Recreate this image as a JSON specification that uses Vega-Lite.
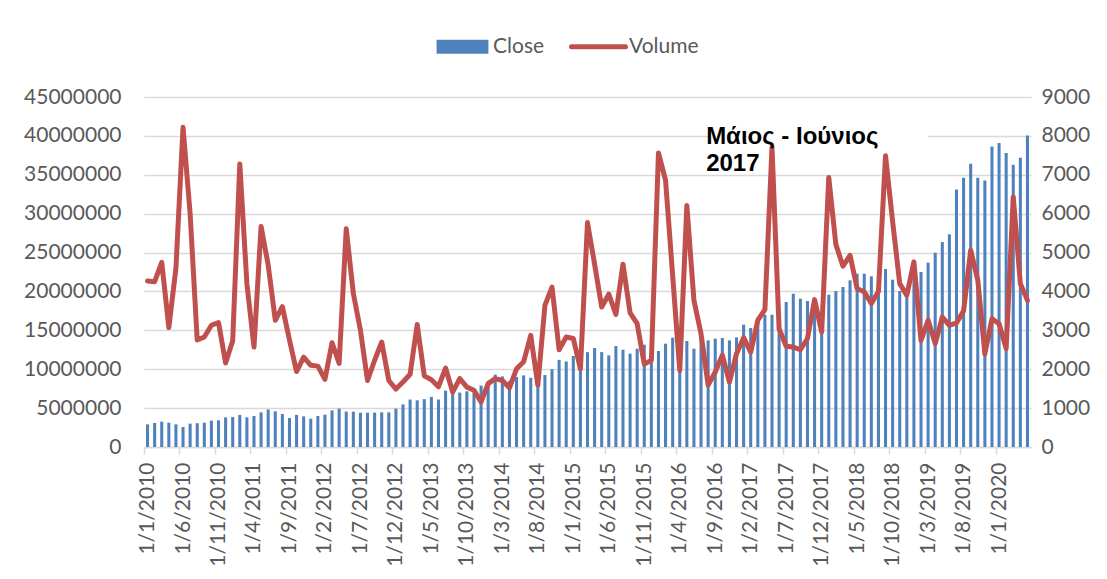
{
  "$schema": "https://vega.github.io/schema/vega-lite/v6.json",
  "width": 887,
  "height": 350,
  "autosize": {"type": "none"},
  "padding": {"left": 144, "top": 97, "right": 76, "bottom": 132},
  "background": "white",
  "config": {
    "view": {"stroke": null},
    "font": "Lato",
    "axis": {"labelFont": "Lato", "labelFontSize": 21, "labelColor": "#595959", "title": null}
  },
  "data": {
    "values": [
      {"month": "1/1/2010", "close": 2910000, "volume": 4270},
      {"month": "1/2/2010", "close": 3090000, "volume": 4250},
      {"month": "1/3/2010", "close": 3260000, "volume": 4750},
      {"month": "1/4/2010", "close": 3130000, "volume": 3070},
      {"month": "1/5/2010", "close": 2910000, "volume": 4600},
      {"month": "1/6/2010", "close": 2570000, "volume": 8220},
      {"month": "1/7/2010", "close": 3000000, "volume": 6000},
      {"month": "1/8/2010", "close": 3060000, "volume": 2750},
      {"month": "1/9/2010", "close": 3130000, "volume": 2830},
      {"month": "1/10/2010", "close": 3390000, "volume": 3130},
      {"month": "1/11/2010", "close": 3430000, "volume": 3200},
      {"month": "1/12/2010", "close": 3810000, "volume": 2160},
      {"month": "1/1/2011", "close": 3860000, "volume": 2730},
      {"month": "1/2/2011", "close": 4130000, "volume": 7280},
      {"month": "1/3/2011", "close": 3810000, "volume": 4200},
      {"month": "1/4/2011", "close": 3990000, "volume": 2570},
      {"month": "1/5/2011", "close": 4460000, "volume": 5670},
      {"month": "1/6/2011", "close": 4820000, "volume": 4680},
      {"month": "1/7/2011", "close": 4580000, "volume": 3260},
      {"month": "1/8/2011", "close": 4240000, "volume": 3610},
      {"month": "1/9/2011", "close": 3730000, "volume": 2750},
      {"month": "1/10/2011", "close": 4130000, "volume": 1940},
      {"month": "1/11/2011", "close": 3940000, "volume": 2310},
      {"month": "1/12/2011", "close": 3640000, "volume": 2100},
      {"month": "1/1/2012", "close": 3990000, "volume": 2080},
      {"month": "1/2/2012", "close": 4160000, "volume": 1740},
      {"month": "1/3/2012", "close": 4710000, "volume": 2680},
      {"month": "1/4/2012", "close": 4930000, "volume": 2150},
      {"month": "1/5/2012", "close": 4560000, "volume": 5610},
      {"month": "1/6/2012", "close": 4540000, "volume": 3950},
      {"month": "1/7/2012", "close": 4410000, "volume": 3000},
      {"month": "1/8/2012", "close": 4410000, "volume": 1710},
      {"month": "1/9/2012", "close": 4420000, "volume": 2230},
      {"month": "1/10/2012", "close": 4460000, "volume": 2700},
      {"month": "1/11/2012", "close": 4460000, "volume": 1710},
      {"month": "1/12/2012", "close": 4930000, "volume": 1490},
      {"month": "1/1/2013", "close": 5480000, "volume": 1670},
      {"month": "1/2/2013", "close": 6100000, "volume": 1870},
      {"month": "1/3/2013", "close": 6000000, "volume": 3150},
      {"month": "1/4/2013", "close": 6150000, "volume": 1830},
      {"month": "1/5/2013", "close": 6450000, "volume": 1730},
      {"month": "1/6/2013", "close": 6100000, "volume": 1550},
      {"month": "1/7/2013", "close": 7240000, "volume": 2030},
      {"month": "1/8/2013", "close": 6980000, "volume": 1410},
      {"month": "1/9/2013", "close": 7000000, "volume": 1760},
      {"month": "1/10/2013", "close": 7160000, "volume": 1540},
      {"month": "1/11/2013", "close": 6980000, "volume": 1460},
      {"month": "1/12/2013", "close": 7900000, "volume": 1160},
      {"month": "1/1/2014", "close": 8400000, "volume": 1630},
      {"month": "1/2/2014", "close": 9300000, "volume": 1760},
      {"month": "1/3/2014", "close": 9080000, "volume": 1710},
      {"month": "1/4/2014", "close": 8500000, "volume": 1520},
      {"month": "1/5/2014", "close": 9000000, "volume": 2010},
      {"month": "1/6/2014", "close": 9210000, "volume": 2190},
      {"month": "1/7/2014", "close": 8900000, "volume": 2870},
      {"month": "1/8/2014", "close": 8000000, "volume": 1590},
      {"month": "1/9/2014", "close": 9250000, "volume": 3640},
      {"month": "1/10/2014", "close": 10000000, "volume": 4110},
      {"month": "1/11/2014", "close": 11200000, "volume": 2500},
      {"month": "1/12/2014", "close": 11000000, "volume": 2830},
      {"month": "1/1/2015", "close": 11700000, "volume": 2790},
      {"month": "1/2/2015", "close": 10200000, "volume": 2010},
      {"month": "1/3/2015", "close": 12200000, "volume": 5770},
      {"month": "1/4/2015", "close": 12730000, "volume": 4700},
      {"month": "1/5/2015", "close": 12200000, "volume": 3600},
      {"month": "1/6/2015", "close": 11780000, "volume": 3930},
      {"month": "1/7/2015", "close": 12980000, "volume": 3410},
      {"month": "1/8/2015", "close": 12510000, "volume": 4700},
      {"month": "1/9/2015", "close": 12000000, "volume": 3450},
      {"month": "1/10/2015", "close": 12640000, "volume": 3170},
      {"month": "1/11/2015", "close": 13150000, "volume": 2130},
      {"month": "1/12/2015", "close": 11400000, "volume": 2230},
      {"month": "1/1/2016", "close": 12340000, "volume": 7560},
      {"month": "1/2/2016", "close": 13280000, "volume": 6860},
      {"month": "1/3/2016", "close": 14050000, "volume": 4410},
      {"month": "1/4/2016", "close": 10300000, "volume": 1970},
      {"month": "1/5/2016", "close": 13630000, "volume": 6210},
      {"month": "1/6/2016", "close": 12640000, "volume": 3770},
      {"month": "1/7/2016", "close": 14000000, "volume": 2910},
      {"month": "1/8/2016", "close": 13710000, "volume": 1590},
      {"month": "1/9/2016", "close": 13930000, "volume": 1930},
      {"month": "1/10/2016", "close": 14010000, "volume": 2360},
      {"month": "1/11/2016", "close": 13710000, "volume": 1670},
      {"month": "1/12/2016", "close": 14100000, "volume": 2400},
      {"month": "1/1/2017", "close": 15730000, "volume": 2810},
      {"month": "1/2/2017", "close": 15300000, "volume": 2440},
      {"month": "1/3/2017", "close": 16500000, "volume": 3260},
      {"month": "1/4/2017", "close": 17000000, "volume": 3530},
      {"month": "1/5/2017", "close": 17000000, "volume": 7710},
      {"month": "1/6/2017", "close": 17500000, "volume": 3040},
      {"month": "1/7/2017", "close": 18640000, "volume": 2590},
      {"month": "1/8/2017", "close": 19710000, "volume": 2570},
      {"month": "1/9/2017", "close": 19070000, "volume": 2500},
      {"month": "1/10/2017", "close": 18770000, "volume": 2790},
      {"month": "1/11/2017", "close": 18900000, "volume": 3790},
      {"month": "1/12/2017", "close": 15000000, "volume": 2960},
      {"month": "1/1/2018", "close": 19580000, "volume": 6930},
      {"month": "1/2/2018", "close": 20050000, "volume": 5210},
      {"month": "1/3/2018", "close": 20570000, "volume": 4650},
      {"month": "1/4/2018", "close": 21430000, "volume": 4930},
      {"month": "1/5/2018", "close": 22280000, "volume": 4070},
      {"month": "1/6/2018", "close": 22280000, "volume": 3990},
      {"month": "1/7/2018", "close": 21940000, "volume": 3690},
      {"month": "1/8/2018", "close": 21500000, "volume": 4000},
      {"month": "1/9/2018", "close": 22880000, "volume": 7490},
      {"month": "1/10/2018", "close": 21510000, "volume": 5800},
      {"month": "1/11/2018", "close": 20050000, "volume": 4200},
      {"month": "1/12/2018", "close": 19800000, "volume": 3900},
      {"month": "1/1/2019", "close": 23000000, "volume": 4760},
      {"month": "1/2/2019", "close": 22500000, "volume": 2740},
      {"month": "1/3/2019", "close": 23700000, "volume": 3260},
      {"month": "1/4/2019", "close": 24980000, "volume": 2660},
      {"month": "1/5/2019", "close": 26350000, "volume": 3340},
      {"month": "1/6/2019", "close": 27340000, "volume": 3130},
      {"month": "1/7/2019", "close": 33100000, "volume": 3190},
      {"month": "1/8/2019", "close": 34620000, "volume": 3500},
      {"month": "1/9/2019", "close": 36420000, "volume": 5060},
      {"month": "1/10/2019", "close": 34620000, "volume": 4290},
      {"month": "1/11/2019", "close": 34280000, "volume": 2390},
      {"month": "1/12/2019", "close": 38650000, "volume": 3300},
      {"month": "1/1/2020", "close": 39080000, "volume": 3170},
      {"month": "1/2/2020", "close": 37800000, "volume": 2530},
      {"month": "1/3/2020", "close": 36300000, "volume": 6430},
      {"month": "1/4/2020", "close": 37190000, "volume": 4200},
      {"month": "1/5/2020", "close": 40060000, "volume": 3770}
    ]
  },
  "encoding": {
    "x": {
      "field": "month",
      "type": "ordinal",
      "scale": {
        "paddingInner": 0.57,
        "paddingOuter": 0.285,
        "domain": [
          "1/1/2010", "1/2/2010", "1/3/2010", "1/4/2010", "1/5/2010", "1/6/2010", "1/7/2010", "1/8/2010", "1/9/2010", "1/10/2010", "1/11/2010", "1/12/2010",
          "1/1/2011", "1/2/2011", "1/3/2011", "1/4/2011", "1/5/2011", "1/6/2011", "1/7/2011", "1/8/2011", "1/9/2011", "1/10/2011", "1/11/2011", "1/12/2011",
          "1/1/2012", "1/2/2012", "1/3/2012", "1/4/2012", "1/5/2012", "1/6/2012", "1/7/2012", "1/8/2012", "1/9/2012", "1/10/2012", "1/11/2012", "1/12/2012",
          "1/1/2013", "1/2/2013", "1/3/2013", "1/4/2013", "1/5/2013", "1/6/2013", "1/7/2013", "1/8/2013", "1/9/2013", "1/10/2013", "1/11/2013", "1/12/2013",
          "1/1/2014", "1/2/2014", "1/3/2014", "1/4/2014", "1/5/2014", "1/6/2014", "1/7/2014", "1/8/2014", "1/9/2014", "1/10/2014", "1/11/2014", "1/12/2014",
          "1/1/2015", "1/2/2015", "1/3/2015", "1/4/2015", "1/5/2015", "1/6/2015", "1/7/2015", "1/8/2015", "1/9/2015", "1/10/2015", "1/11/2015", "1/12/2015",
          "1/1/2016", "1/2/2016", "1/3/2016", "1/4/2016", "1/5/2016", "1/6/2016", "1/7/2016", "1/8/2016", "1/9/2016", "1/10/2016", "1/11/2016", "1/12/2016",
          "1/1/2017", "1/2/2017", "1/3/2017", "1/4/2017", "1/5/2017", "1/6/2017", "1/7/2017", "1/8/2017", "1/9/2017", "1/10/2017", "1/11/2017", "1/12/2017",
          "1/1/2018", "1/2/2018", "1/3/2018", "1/4/2018", "1/5/2018", "1/6/2018", "1/7/2018", "1/8/2018", "1/9/2018", "1/10/2018", "1/11/2018", "1/12/2018",
          "1/1/2019", "1/2/2019", "1/3/2019", "1/4/2019", "1/5/2019", "1/6/2019", "1/7/2019", "1/8/2019", "1/9/2019", "1/10/2019", "1/11/2019", "1/12/2019",
          "1/1/2020", "1/2/2020", "1/3/2020", "1/4/2020", "1/5/2020"
        ]
      },
      "axis": {
        "title": null,
        "values": ["1/1/2010", "1/6/2010", "1/11/2010", "1/4/2011", "1/9/2011", "1/2/2012", "1/7/2012", "1/12/2012", "1/5/2013", "1/10/2013", "1/3/2014", "1/8/2014", "1/1/2015", "1/6/2015", "1/11/2015", "1/4/2016", "1/9/2016", "1/2/2017", "1/7/2017", "1/12/2017", "1/5/2018", "1/10/2018", "1/3/2019", "1/8/2019", "1/1/2020"],
        "labelAngle": -90,
        "labelPadding": 8,
        "labelOverlap": false,
        "tickSize": 7,
        "tickColor": "#d9d9d9",
        "tickWidth": 1.5,
        "domainColor": "#d9d9d9",
        "domainWidth": 1.5,
        "bandPosition": 0.5,
        "tickOffset": -3.548,
        "labelOffset": 3.548,
        "grid": false
      }
    }
  },
  "layer": [
    {
      "mark": {"type": "bar", "color": "#4f81bd"},
      "encoding": {
        "y": {
          "field": "close",
          "type": "quantitative",
          "scale": {"domain": [0, 45000000]},
          "axis": {
            "orient": "left",
            "title": null,
            "values": [0, 5000000, 10000000, 15000000, 20000000, 25000000, 30000000, 35000000, 40000000, 45000000],
            "format": "d",
            "domain": false,
            "ticks": false,
            "labelPadding": 23,
            "grid": true,
            "gridColor": "#d9d9d9",
            "gridWidth": 1.5
          }
        },
        "color": {
          "datum": "Close",
          "scale": {"domain": ["Close", "Volume"], "range": ["#4f81bd", "#c0504d"]},
          "legend": {
            "orient": "none",
            "legendX": 308,
            "legendY": -61,
            "direction": "horizontal",
            "title": null,
            "padding": 0,
            "labelFont": "Lato",
            "labelFontSize": 21,
            "labelColor": "#595959",
            "labelOffset": 20,
            "columnPadding": 16,
            "symbolSize": 2916,
            "encode": {
              "symbols": {
                "update": {
                  "shape": {"signal": "datum.value === 'Close' ? 'M-0.96,-0.26H0.96V0.26H-0.96Z' : 'stroke'"},
                  "fill": {"signal": "datum.value === 'Close' ? '#4f81bd' : 'transparent'"},
                  "stroke": {"signal": "datum.value === 'Close' ? 'transparent' : '#c0504d'"},
                  "strokeWidth": {"signal": "datum.value === 'Close' ? 0 : 5"},
                  "strokeCap": {"value": "round"},
                  "opacity": {"value": 1}
                }
              }
            }
          }
        }
      }
    },
    {
      "data": {"values": [{}]},
      "mark": {"type": "rect", "color": "white"},
      "encoding": {
        "x": {"datum": "1/8/2016"},
        "x2": {"datum": "1/3/2019"},
        "y": {"datum": 41300000, "type": "quantitative", "scale": {"domain": [0, 45000000]}, "axis": null},
        "y2": {"datum": 35600000}
      }
    },
    {
      "mark": {"type": "line", "strokeWidth": 5, "strokeJoin": "round", "strokeCap": "round"},
      "encoding": {
        "y": {
          "field": "volume",
          "type": "quantitative",
          "scale": {"domain": [0, 9000]},
          "axis": {
            "orient": "right",
            "title": null,
            "values": [0, 1000, 2000, 3000, 4000, 5000, 6000, 7000, 8000, 9000],
            "format": "d",
            "domain": false,
            "ticks": false,
            "grid": false,
            "labelPadding": 10
          }
        },
        "color": {"datum": "Volume"}
      }
    },
    {
      "data": {"values": [{}]},
      "mark": {
        "type": "text",
        "text": ["Μάιος - Ιούνιος", "2017"],
        "font": "Liberation Sans",
        "fontWeight": "bold",
        "fontSize": 24,
        "lineHeight": 27,
        "align": "left",
        "baseline": "alphabetic",
        "color": "#000000",
        "dx": -2
      },
      "encoding": {
        "x": {"datum": "1/8/2016"},
        "y": {"datum": 39000000, "type": "quantitative", "scale": {"domain": [0, 45000000]}, "axis": null}
      }
    }
  ],
  "resolve": {"scale": {"y": "independent"}}
}
